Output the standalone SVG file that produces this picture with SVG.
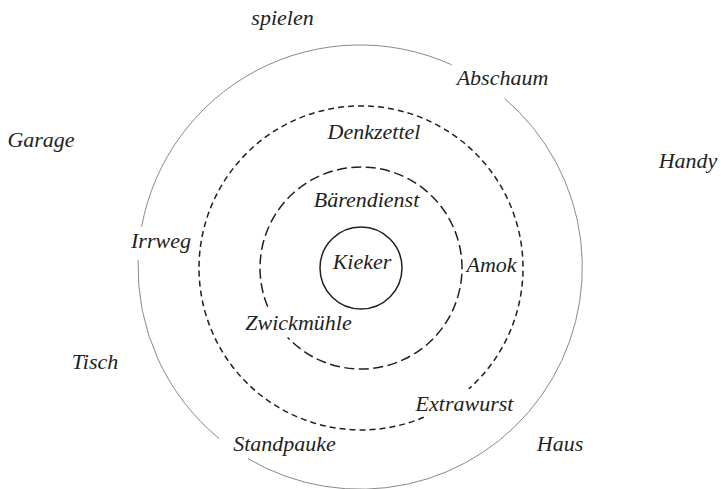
<svg xmlns="http://www.w3.org/2000/svg" width="721" height="489" viewBox="0 0 721 489">
<style>
.t{font-family:'Liberation Serif','Times New Roman',Times,serif;font-style:italic;font-size:22px;fill:#231f20;text-anchor:middle}
.outer{fill:none;stroke:#8a8a8a;stroke-width:1}
.mid{fill:none;stroke:#231f20;stroke-width:1.5;stroke-dasharray:6 4}
.inner{fill:none;stroke:#231f20;stroke-width:1.5;stroke-dasharray:10 4.5}
.core{fill:none;stroke:#231f20;stroke-width:1.5}
</style>
<rect width="721" height="489" fill="#fff"/>
<g id="rings">
<g id="ring-outer">
<path class="outer" d="M504.5,98.4 A222,222 0 0 1 248.0,458.7"/>
<path class="outer" d="M219.1,438.5 A222,222 0 0 1 138.1,260.0"/>
<path class="outer" d="M141.6,226.9 A222,222 0 0 1 451.7,64.8"/>
</g>
<g id="ring-middle">
<path class="mid" d="M423.8,417.3 A162,162 0 1 1 468.8,388.9"/>
</g>
<g id="ring-inner">
<path class="inner" d="M267.7,306.7 A101,101 0 1 1 287.6,337.4"/>
</g>
<g id="ring-core">
<circle class="core" cx="361" cy="268" r="41"/>
</g>
</g>
<g font-family="Liberation Serif, serif" font-style="italic">
<g id="kieker"><text class="t" x="362" y="269">Kieker</text></g>
<g id="baerendienst"><text class="t" x="366.5" y="207">Bärendienst</text></g>
<g id="amok"><text class="t" x="491.5" y="272">Amok</text></g>
<g id="zwickmuehle"><text class="t" x="298.5" y="330">Zwickmühle</text></g>
<g id="denkzettel"><text class="t" x="374" y="139">Denkzettel</text></g>
<g id="irrweg"><text class="t" x="161" y="248">Irrweg</text></g>
<g id="extrawurst"><text class="t" x="464.5" y="411">Extrawurst</text></g>
<g id="abschaum"><text class="t" x="502.5" y="85">Abschaum</text></g>
<g id="standpauke"><text class="t" x="284.5" y="451">Standpauke</text></g>
<g id="spielen"><text class="t" x="282.5" y="25">spielen</text></g>
<g id="garage"><text class="t" x="41" y="147">Garage</text></g>
<g id="handy"><text class="t" x="688" y="168">Handy</text></g>
<g id="tisch"><text class="t" x="95" y="369">Tisch</text></g>
<g id="haus"><text class="t" x="560" y="451">Haus</text></g>
</g>
</svg>
